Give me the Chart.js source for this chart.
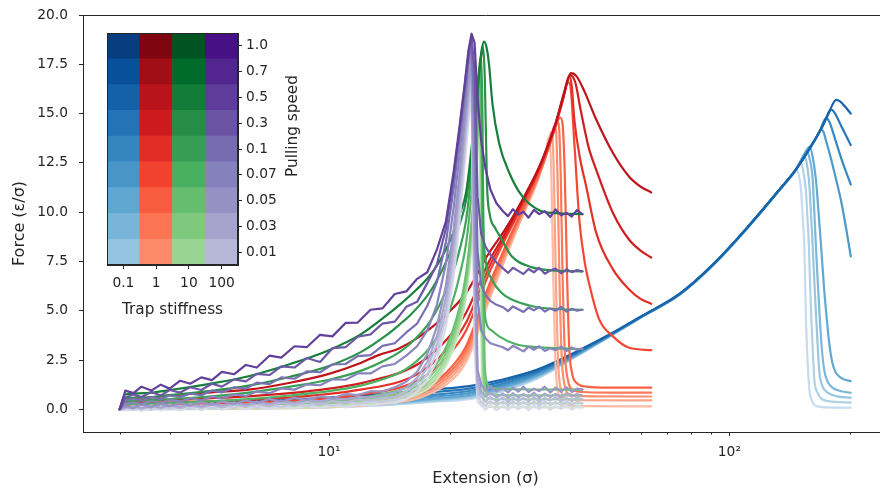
<!DOCTYPE html>
<html>
<head>
<meta charset="utf-8">
<script src="https://cdn.jsdelivr.net/npm/chart.js@4.4.0/dist/chart.umd.min.js"></script>
<style>
  html, body { margin: 0; padding: 0; background: #fff; overflow: hidden; }
  #wrap { position: relative; width: 880px; height: 491px; overflow: hidden; }
  #main { position: absolute; left: 0; top: 0; }
  #inset { position: absolute; left: 102px; top: 28px; }
</style>
</head>
<body>
<div id="wrap">
  <canvas id="main" width="900" height="491"></canvas>
  <canvas id="inset" width="211" height="312"></canvas>
</div>
<script>
// ---- labels and ticks ----
const stiffnessLabels = ['0.1', '1', '10', '100'];
const speedLabels = ['1.0', '0.7', '0.5', '0.3', '0.1', '0.07', '0.05', '0.03', '0.01'];
const forceTicks = [0, 2.5, 5, 7.5, 10, 12.5, 15, 17.5, 20];
const extensionTicks = [3, 4, 5, 6, 7, 8, 9, 10, 20, 30, 40, 50, 60, 70, 80, 90, 100, 200];

// ---- trap stiffness 0.1 : [extension, force], fastest pulling speed first ----
const blueK01 = [
  [[3,0],[3.2,0.25],[4,0.3],[5,0.36],[7,0.46],[10,0.6],[14,0.8],[18,1.0],[22.4,1.18],[27,1.5],[33,2.0],[42,2.98],[50,3.78],[60,4.7],[75,5.85],[91,7.35],[110,9.15],[133,11.12],[147,12.2],[160,13.35],[170,14.27],[178,15.15],[184.8,15.7],[189,15.62],[194,15.38],[201,15.0]],
  [[3,0],[3.2,0.18],[4,0.22],[5,0.27],[7,0.36],[10,0.49],[14,0.67],[18,0.86],[22.4,1.05],[27,1.39],[33,1.92],[42,2.94],[50,3.76],[60,4.69],[75,5.84],[91,7.34],[110,9.14],[133,11.11],[147,12.2],[160,13.35],[170,14.27],[175.5,14.85],[179.6,15.2],[183,15.05],[190,14.4],[201,13.4]],
  [[3,0],[3.2,0.12],[4,0.15],[5,0.19],[7,0.26],[10,0.37],[14,0.54],[18,0.73],[22.4,0.93],[27,1.28],[33,1.84],[42,2.9],[50,3.74],[60,4.68],[75,5.83],[91,7.33],[110,9.13],[133,11.1],[147,12.2],[160,13.35],[168,14.1],[174.5,14.77],[178,14.55],[185,13.5],[192,12.5],[201,11.4]],
  [[3,0],[3.2,0.07],[4,0.09],[5,0.12],[7,0.18],[10,0.28],[14,0.44],[18,0.63],[22.4,0.83],[27,1.19],[33,1.77],[42,2.86],[50,3.72],[60,4.67],[75,5.83],[91,7.33],[110,9.13],[133,11.1],[147,12.2],[160,13.35],[165.5,13.85],[169.5,14.2],[172,14.05],[174.5,13.6],[180,12.6],[184.8,11.65],[190,10.6],[196,9.1],[201,7.76]],
  [[3,0],[3.2,0.03],[4,0.04],[5,0.06],[7,0.1],[10,0.18],[14,0.34],[18,0.53],[22.4,0.73],[27,1.1],[33,1.7],[42,2.82],[50,3.7],[60,4.66],[75,5.82],[91,7.32],[110,9.12],[133,11.1],[147,12.2],[153,12.85],[158.7,13.33],[161.5,12.8],[164.5,11.65],[167,10.0],[169.5,8.27],[172,6.4],[174.5,4.9],[177.5,3.4],[180.8,2.36],[184,1.9],[187.5,1.69],[193,1.52],[201,1.43]],
  [[3,0],[3.2,0.02],[4,0.03],[5,0.05],[7,0.08],[10,0.15],[14,0.3],[18,0.49],[22.4,0.68],[27,1.05],[33,1.66],[42,2.8],[50,3.69],[60,4.66],[75,5.82],[91,7.32],[110,9.12],[133,11.1],[146.8,12.15],[152,12.75],[156,13.08],[158.7,12.7],[161.5,11.65],[163,10.0],[164.5,8.27],[166.2,6.5],[167.9,4.9],[170,3.2],[172.5,2.0],[176,1.4],[180.8,1.1],[190,0.92],[201,0.84]],
  [[3,0],[3.2,0.01],[4,0.02],[5,0.04],[7,0.07],[10,0.13],[14,0.27],[18,0.45],[22.4,0.63],[27,1.0],[33,1.62],[42,2.78],[50,3.68],[60,4.65],[75,5.81],[91,7.31],[110,9.11],[133,11.1],[146.8,12.15],[150.5,12.55],[153.9,12.86],[156,12.5],[158.5,11.3],[160,9.8],[161.5,8.27],[163,6.5],[164.5,4.9],[166.2,3.2],[167.9,1.86],[171,1.15],[176,0.85],[186,0.66],[201,0.59]],
  [[3,0],[3.2,0.01],[4,0.01],[5,0.03],[7,0.06],[10,0.11],[14,0.24],[18,0.41],[22.4,0.58],[27,0.95],[33,1.58],[42,2.76],[50,3.67],[60,4.64],[75,5.8],[91,7.3],[110,9.1],[133,11.1],[140,11.6],[146.8,12.15],[150.4,12.57],[152.5,12.2],[155.2,11.14],[156.6,9.8],[158,8.27],[159,6.5],[160,4.9],[161.5,3.1],[163,1.52],[166,0.85],[171,0.5],[183,0.38],[201,0.34]],
  [[3,0],[3.2,0.0],[4,0.01],[5,0.02],[7,0.05],[10,0.1],[14,0.22],[18,0.38],[22.4,0.52],[27,0.9],[33,1.54],[42,2.74],[50,3.66],[60,4.64],[75,5.8],[91,7.3],[110,9.1],[133,11.1],[140,11.6],[143.5,11.9],[146.8,12.15],[149,11.9],[151,11.14],[152.4,9.8],[153.9,8.27],[154.6,6.5],[155.2,4.9],[156.5,2.8],[158.5,1.0],[161,0.4],[164.5,0.17],[175,0.1],[201,0.08]]
];

// ---- trap stiffness 1 ----
const redK1 = [
  [[3,0],[3.1,0.55],[3.5,0.6],[4,0.7],[5,0.85],[6.3,1.0],[8,1.35],[10,1.8],[12,2.35],[13.3,2.75],[15,3.1],[17,3.75],[19.6,4.8],[22,5.9],[25.1,7.93],[27.5,9.1],[29.8,10.3],[33.5,12.3],[35.5,13.6],[36.9,14.6],[38.7,16.1],[40.2,17.05],[41.5,16.9],[43.5,16.1],[46.5,14.7],[51.2,13.0],[56.2,11.8],[60,11.3],[63.8,11.0]],
  [[3,0],[3.1,0.4],[4,0.48],[5,0.56],[6.3,0.66],[8,0.82],[10,1.05],[12,1.32],[13.3,1.55],[15,1.85],[17,2.4],[19.6,3.5],[22,4.9],[25.1,7.5],[27.5,8.9],[29.8,10.2],[33.5,12.25],[35.5,13.55],[36.9,14.55],[38.7,16.0],[40,16.95],[41.2,16.6],[42.5,15.2],[44.5,13.3],[46.5,12.15],[51.2,9.96],[56.2,8.6],[60,8.05],[63.8,7.7]],
  [[3,0],[3.1,0.3],[4,0.35],[5,0.4],[6.3,0.48],[8,0.6],[10,0.78],[12,1.0],[15,1.4],[17,1.9],[19.6,3.0],[22,4.4],[25.1,7.2],[27.5,8.75],[29.8,10.1],[33.5,12.2],[35.5,13.5],[36.9,14.5],[38.5,15.8],[39.8,16.9],[40.4,16.4],[41.0,14.7],[42.3,12.8],[43.9,11.3],[46.5,8.95],[51.2,7.1],[56.2,6.08],[60,5.6],[63.8,5.35]],
  [[3,0],[3.1,0.2],[4,0.24],[5,0.28],[6.3,0.34],[8,0.43],[10,0.56],[12,0.75],[15,1.1],[17,1.55],[19.6,2.6],[22,4.0],[25.1,6.9],[27.5,8.6],[29.8,10.0],[33.5,12.15],[35.5,13.45],[36.9,14.45],[38.4,15.7],[39.4,16.6],[40.0,16.5],[41.0,13.5],[42.2,9.6],[43.5,7.5],[44.8,6.24],[47.3,4.56],[51.2,3.7],[56.2,3.12],[63.8,3.0]],
  [[3,0],[3.1,0.08],[4,0.1],[5,0.13],[6.3,0.17],[8,0.23],[10,0.32],[12,0.45],[15,0.72],[17,1.05],[19.6,1.85],[22,3.2],[25.1,6.3],[27.5,8.2],[29.8,9.75],[33.5,12.0],[35.5,13.35],[36.9,14.4],[37.8,14.8],[38.3,14.5],[38.8,12.0],[39.3,7.0],[39.8,3.2],[40.5,1.8],[41.5,1.35],[44,1.15],[50,1.1],[63.8,1.1]],
  [[3,0],[3.1,0.06],[4,0.08],[5,0.1],[6.3,0.13],[8,0.18],[10,0.26],[12,0.37],[15,0.62],[17,0.93],[19.6,1.7],[22,3.0],[25.1,6.1],[27.5,8.05],[29.8,9.65],[33.5,11.95],[35.5,13.35],[36.5,14.15],[37.1,14.6],[37.5,14.4],[37.9,12.0],[38.3,7.0],[38.8,3.0],[39.5,1.5],[40.5,1.0],[43,0.88],[50,0.85],[63.8,0.85]],
  [[3,0],[3.1,0.04],[4,0.06],[5,0.08],[6.3,0.1],[8,0.14],[10,0.21],[12,0.3],[15,0.53],[17,0.82],[19.6,1.55],[22,2.8],[25.1,5.9],[27.5,7.9],[29.8,9.55],[33.5,11.9],[35.2,13.15],[36.0,13.95],[36.5,14.35],[36.9,14.15],[37.2,12.0],[37.6,7.0],[38.1,2.8],[38.8,1.2],[39.8,0.78],[43,0.67],[63.8,0.65]],
  [[3,0],[3.1,0.02],[4,0.04],[5,0.05],[6.3,0.07],[8,0.1],[10,0.16],[12,0.24],[15,0.45],[17,0.72],[19.6,1.4],[22,2.6],[25.1,5.7],[27.5,7.75],[29.8,9.45],[33.5,11.85],[34.8,12.85],[35.4,13.5],[35.8,14.05],[36.15,13.85],[36.45,11.8],[36.85,6.8],[37.3,2.6],[38.0,0.95],[39.2,0.52],[43,0.46],[63.8,0.45]],
  [[3,0],[3.1,0.01],[4,0.02],[5,0.03],[6.3,0.04],[8,0.06],[10,0.11],[12,0.18],[15,0.37],[17,0.62],[19.6,1.25],[22,2.4],[25.1,5.5],[27.5,7.6],[29.8,9.35],[33.0,11.45],[34.3,12.5],[34.9,13.2],[35.3,13.75],[35.65,13.55],[35.95,11.5],[36.35,6.5],[36.8,2.3],[37.5,0.7],[38.6,0.24],[43,0.16],[63.8,0.15]]
];

// ---- trap stiffness 10 ----
const greenK10 = [
  [[3,0],[3.1,0.75],[3.5,0.82],[4,0.98],[5,1.28],[6.3,1.68],[8,2.3],[10,3.0],[12,3.8],[14,4.8],[15,5.3],[16,5.8],[17.8,6.75],[19,7.6],[20.3,8.8],[21.2,9.9],[22,11.0],[22.8,13.6],[23.3,15.6],[23.7,17.1],[24.05,18.2],[24.4,18.65],[24.75,18.35],[25.1,17.5],[25.6,15.5],[26.6,13.5],[28.2,12.0],[30.4,10.8],[33.5,10.1],[37,9.95],[43,9.9]],
  [[3,0],[3.1,0.55],[3.5,0.6],[4,0.72],[5,0.92],[6.3,1.2],[8,1.65],[10,2.2],[12,2.9],[14,3.8],[15,4.3],[16,4.8],[17.8,5.9],[19,6.9],[20.3,8.2],[21.2,9.4],[22,10.6],[22.8,13.1],[23.3,15.3],[23.7,16.9],[24.0,17.9],[24.25,18.4],[24.5,16.8],[24.8,11.5],[25.2,9.9],[26.0,9.2],[26.6,8.85],[28.6,7.76],[32.2,7.2],[36,7.05],[43,7.0]],
  [[3,0],[3.1,0.4],[3.5,0.45],[4,0.52],[5,0.65],[6.3,0.85],[8,1.15],[10,1.5],[12,1.95],[14,2.55],[15,2.9],[16,3.35],[17.8,4.4],[19,5.4],[20.3,6.8],[21.2,8.1],[22,9.6],[22.8,12.4],[23.3,14.7],[23.6,16.5],[23.85,17.7],[24.0,17.9],[24.15,15.5],[24.3,9.5],[24.6,7.6],[25.5,6.6],[27,5.9],[28.6,5.57],[32.2,5.23],[36,5.1],[43,5.05]],
  [[3,0],[3.1,0.25],[3.5,0.28],[4,0.32],[5,0.4],[6.3,0.52],[8,0.7],[10,0.92],[12,1.2],[14,1.6],[15,1.85],[16,2.2],[17.8,3.1],[19,4.0],[20.3,5.4],[21.2,6.8],[22,8.4],[22.8,11.4],[23.3,14.0],[23.55,15.9],[23.75,17.1],[23.9,17.35],[24.05,14.5],[24.2,8.0],[24.4,5.4],[24.7,4.4],[25.5,4.0],[26.6,3.7],[29.3,3.3],[33,3.15],[43,3.05]],
  [[3,0],[3.1,0.1],[4,0.14],[5,0.18],[6.3,0.24],[8,0.32],[10,0.43],[12,0.58],[14,0.82],[15,0.98],[16,1.2],[17.8,1.85],[19,2.6],[20.3,3.9],[21.2,5.2],[22,6.9],[22.8,9.9],[23.3,12.6],[23.6,14.8],[23.85,16.5],[24.0,16.9],[24.15,14.0],[24.3,7.0],[24.45,2.8],[24.7,1.5],[25.2,1.15],[27,1.03],[43,1.0]],
  [[3,0],[3.1,0.07],[4,0.1],[5,0.13],[6.3,0.18],[8,0.25],[10,0.34],[12,0.47],[14,0.68],[15,0.82],[16,1.02],[17.8,1.62],[19,2.35],[20.3,3.6],[21.2,4.9],[22,6.6],[22.8,9.6],[23.3,12.3],[23.55,14.4],[23.8,16.1],[23.92,16.4],[24.05,13.5],[24.2,6.5],[24.35,2.4],[24.6,1.1],[25.1,0.8],[27,0.72],[43,0.7]],
  [[3,0],[3.1,0.05],[4,0.07],[5,0.09],[6.3,0.13],[8,0.19],[10,0.27],[12,0.38],[14,0.56],[15,0.69],[16,0.88],[17.8,1.42],[19,2.12],[20.3,3.35],[21.2,4.6],[22,6.3],[22.8,9.3],[23.3,12.0],[23.5,13.8],[23.72,15.5],[23.84,15.9],[23.97,13.0],[24.12,6.0],[24.27,2.0],[24.5,0.8],[25,0.56],[27,0.51],[43,0.5]],
  [[3,0],[3.1,0.03],[4,0.04],[5,0.06],[6.3,0.09],[8,0.13],[10,0.2],[12,0.3],[14,0.45],[15,0.57],[16,0.75],[17.8,1.25],[19,1.92],[20.3,3.1],[21.2,4.35],[22,6.0],[22.8,9.0],[23.3,11.7],[23.45,13.2],[23.65,14.9],[23.76,15.4],[23.89,12.5],[24.04,5.5],[24.19,1.7],[24.4,0.55],[24.9,0.34],[27,0.31],[43,0.3]],
  [[3,0],[3.1,0.01],[4,0.02],[5,0.03],[6.3,0.05],[8,0.08],[10,0.13],[12,0.22],[14,0.35],[15,0.46],[16,0.63],[17.8,1.1],[19,1.74],[20.3,2.9],[21.2,4.1],[22,5.75],[22.8,8.7],[23.2,11.0],[23.4,12.6],[23.57,14.3],[23.68,14.9],[23.81,12.0],[23.96,5.0],[24.11,1.4],[24.3,0.35],[24.8,0.13],[27,0.11],[43,0.1]]
];

// ---- trap stiffness 100 : sampled extensions shared by all speeds, then noisy forces ----
const purpleExt = [3.0,3.1,3.25,3.4,3.6,3.8,4.0,4.25,4.5,4.8,5.1,5.4,5.8,6.2,6.6,7.1,7.6,8.2,8.8,9.5,10.2,11.0,11.8,12.7,13.6,14.6,15.6,16.6,17.6,18.6,19.6,20.5,21.2,21.8,22.3,22.7,23.1,23.5,24.0,24.6,25.3,26.2,27.2,28.0,28.8,29.7,30.6,31.5,32.5,33.5,34.6,35.7,36.8,38.0,39.2,40.4,41.6,42.9];
const purpleK100 = [
  [0.00,0.95,0.82,1.15,0.95,1.25,1.05,1.45,1.30,1.62,1.48,1.90,1.78,2.25,2.12,2.72,2.62,3.20,3.15,3.78,3.70,4.38,4.40,5.05,5.12,5.85,5.98,6.62,6.95,8.10,9.55,12.10,14.40,16.40,18.20,19.05,18.60,15.80,13.60,12.20,11.15,10.45,10.05,9.80,10.15,9.88,10.02,9.72,10.12,9.90,10.05,9.76,10.14,9.84,9.96,9.78,10.10,9.90],
  [0.00,0.60,0.76,0.62,0.88,0.70,0.98,0.85,1.12,0.98,1.30,1.15,1.52,1.42,1.80,1.74,2.18,2.12,2.60,2.40,3.10,3.15,3.68,3.80,4.35,4.45,5.20,5.45,6.40,7.35,9.20,11.90,14.20,16.30,18.00,18.85,17.20,10.80,8.90,8.25,7.85,7.45,7.15,6.92,7.18,7.02,6.86,7.12,6.95,7.18,6.88,7.04,7.14,6.90,7.10,6.96,7.06,7.00],
  [0.00,0.45,0.55,0.44,0.62,0.52,0.70,0.62,0.80,0.72,0.95,0.86,1.12,1.05,1.35,1.28,1.62,1.55,1.92,1.88,2.28,2.30,2.70,2.75,3.22,3.35,3.90,4.35,5.25,6.45,8.50,11.30,13.80,16.00,17.80,18.60,15.20,8.00,6.30,5.80,5.50,5.30,5.18,4.98,5.22,5.08,4.94,5.16,5.02,5.20,4.96,5.12,5.00,5.20,4.95,5.10,5.00,5.05],
  [0.00,0.28,0.36,0.26,0.42,0.32,0.48,0.40,0.56,0.46,0.64,0.55,0.76,0.68,0.90,0.82,1.06,1.00,1.26,1.22,1.52,1.50,1.82,1.82,2.18,2.30,2.72,3.20,4.00,5.30,7.40,10.30,13.00,15.40,17.40,18.35,14.20,5.60,4.00,3.60,3.35,3.25,3.15,3.00,3.22,3.08,2.94,3.18,3.02,3.20,2.96,3.10,3.00,3.18,2.96,3.14,3.02,3.10],
  [0.00,0.15,0.05,0.25,0.10,0.30,0.15,0.32,0.18,0.36,0.22,0.40,0.28,0.45,0.32,0.52,0.40,0.58,0.48,0.66,0.56,0.78,0.72,0.92,0.90,1.12,1.40,1.90,2.80,4.20,6.30,9.20,12.00,14.60,16.70,17.80,10.00,2.00,1.25,0.95,1.15,0.90,1.10,0.85,1.10,0.90,1.15,0.88,1.05,0.92,1.15,0.85,1.10,0.90,1.12,0.88,1.05,1.00],
  [0.00,0.10,0.18,0.05,0.22,0.08,0.25,0.12,0.28,0.14,0.30,0.18,0.34,0.22,0.38,0.26,0.44,0.32,0.50,0.40,0.55,0.50,0.62,0.62,0.72,0.85,1.10,1.60,2.40,3.70,5.70,8.50,11.30,14.00,16.20,17.50,7.60,1.50,0.90,0.65,0.85,0.60,0.80,0.58,0.82,0.60,0.78,0.62,0.85,0.58,0.80,0.62,0.78,0.60,0.82,0.64,0.78,0.70],
  [0.00,0.05,0.15,0.02,0.18,0.04,0.20,0.06,0.22,0.08,0.25,0.10,0.28,0.14,0.30,0.16,0.34,0.22,0.38,0.26,0.42,0.34,0.50,0.46,0.56,0.62,0.90,1.35,2.10,3.30,5.20,8.00,10.80,13.40,15.70,17.00,6.00,1.10,0.65,0.40,0.62,0.40,0.60,0.38,0.60,0.42,0.58,0.40,0.62,0.38,0.58,0.44,0.60,0.40,0.58,0.42,0.60,0.50],
  [0.00,0.12,0.00,0.14,-0.02,0.16,0.02,0.18,0.04,0.20,0.05,0.22,0.08,0.24,0.10,0.26,0.12,0.28,0.16,0.30,0.18,0.36,0.28,0.40,0.38,0.48,0.70,1.10,1.80,2.90,4.70,7.40,10.20,12.90,15.20,16.50,4.50,0.70,0.35,0.18,0.42,0.20,0.40,0.18,0.42,0.22,0.38,0.20,0.40,0.18,0.40,0.22,0.38,0.20,0.42,0.22,0.38,0.30],
  [0.00,-0.05,0.10,-0.08,0.12,-0.05,0.10,-0.06,0.12,-0.04,0.14,-0.02,0.15,0.00,0.16,0.02,0.18,0.04,0.20,0.06,0.22,0.10,0.25,0.18,0.30,0.32,0.50,0.90,1.50,2.50,4.20,6.80,9.60,12.30,14.60,16.00,3.00,0.40,0.20,-0.02,0.22,-0.05,0.20,-0.02,0.22,0.00,0.18,-0.04,0.22,0.00,0.20,-0.03,0.18,0.02,0.22,-0.02,0.18,0.10]
];

// ---- line colours, fastest speed first ----
const bluesLine   = ['#1764ab','#2676b8','#3888c1','#4c99ca','#63a8d3','#7db8da','#99c7e0','#b0d2e7','#c6dbef'];
const redsLine    = ['#bc141a','#d01d1f','#e43128','#f24734','#f96144','#fb7858','#fc8e6e','#fca487','#fcbba1'];
const greensLine  = ['#157f3b','#289049','#38a156','#4eb163','#6abf71','#84cb83','#9dd797','#b2e0ac','#c7e9c0'];
const purplesLine = ['#61409b','#6d58a6','#7970b3','#8884be','#9894c5','#a9a6cf','#b9bada','#cacae3','#dadaeb'];

// ---- key swatches (rows top to bottom = speeds 1.0 ... 0.01) ----
const bluesKey   = ['#083d7f','#08509a','#1461a8','#2373b6','#3585bf','#4896c8','#5fa6d1','#78b5d9','#94c4df'];
const redsKey    = ['#7f0610','#a20e15','#b81419','#cd1a1e','#e12d26','#f14230','#f75c41','#fb7454','#fc8a6a'];
const greensKey  = ['#005422','#006b2b','#127c38','#258d46','#359e53','#49af61','#65bd6f','#7fc97f','#98d594'];
const purplesKey = ['#471084','#53258e','#5f3c99','#6b53a4','#776bb1','#8481bc','#9591c4','#a6a3cd','#b6b6d8'];

const TEXT = '#262626';
const FONT = '"DejaVu Sans", sans-serif';

// ---- build line datasets ----
const datasets = [];
function addFamily(curves, colors, rank, smooth) {
  curves.forEach((pts, i) => {
    datasets.push({
      data: pts,
      borderColor: colors[i],
      borderWidth: 2.2,
      pointRadius: 0,
      fill: false,
      tension: 0,
      cubicInterpolationMode: smooth ? 'monotone' : 'default',
      borderJoinStyle: 'round',
      borderCapStyle: 'round',
      order: rank * 10 + i
    });
  });
}
const asXY = pairs => pairs.map(([x, y]) => ({ x, y }));
addFamily(blueK01.map(asXY), bluesLine, 3, true);
addFamily(redK1.map(asXY), redsLine, 2, true);
addFamily(greenK10.map(asXY), greensLine, 1, true);
addFamily(purpleK100.map(f => f.map((y, i) => ({ x: purpleExt[i], y }))), purplesLine, 0, false);

// keep the plot box exactly where the layout puts it (no extra label padding)
const fixedBox = size => s => {
  if (s.isHorizontal()) { s.height = size; } else { s.width = size; }
  s.paddingTop = 0; s.paddingBottom = 0; s.paddingLeft = 0; s.paddingRight = 0;
};

// frame: top spine plus major/minor ticks along the log axis
const axisFrame = {
  id: 'axisFrame',
  afterDraw(chart) {
    const { ctx, chartArea: a, scales: { x } } = chart;
    ctx.save();
    ctx.strokeStyle = TEXT;
    ctx.lineWidth = 1;
    ctx.beginPath();
    ctx.moveTo(a.left, a.top + 0.5);
    ctx.lineTo(a.right, a.top + 0.5);
    ctx.moveTo(a.right - 0.5, a.top);
    ctx.lineTo(a.right - 0.5, a.bottom);
    extensionTicks.forEach(v => {
      const px = Math.round(x.getPixelForValue(v)) + 0.5;
      const len = (v === 10 || v === 100) ? 4 : 2.5;
      ctx.moveTo(px, a.bottom);
      ctx.lineTo(px, a.bottom + len);
    });
    ctx.stroke();
    ctx.restore();
  }
};

new Chart(document.getElementById('main'), {
  type: 'line',
  data: { datasets },
  options: {
    responsive: false,
    animation: false,
    events: [],
    layout: { padding: { left: 0, top: 15, right: 12, bottom: 0 } },
    plugins: { legend: { display: false }, tooltip: { enabled: false } },
    scales: {
      x: {
        type: 'logarithmic',
        min: 2.43,
        max: 249,
        afterFit: fixedBox(59),
        afterBuildTicks: s => { s.ticks = extensionTicks.map(v => ({ value: v })); },
        ticks: {
          autoSkip: false,
          maxRotation: 0,
          padding: 12,
          color: TEXT,
          font: { family: FONT, size: 13.8 },
          callback: v => (v === 10 ? '10\u00b9' : v === 100 ? '10\u00b2' : '')
        },
        grid: { drawOnChartArea: false, drawTicks: false },
        border: { display: true, color: TEXT, width: 1 },
        title: {
          display: true,
          text: 'Extension (\u03c3)',
          color: TEXT,
          font: { family: FONT, size: 16 },
          padding: { top: 0, bottom: 2.4 }
        }
      },
      y: {
        min: -1.15,
        max: 20,
        afterFit: fixedBox(83),
        afterBuildTicks: s => { s.ticks = forceTicks.map(v => ({ value: v })); },
        ticks: {
          autoSkip: false,
          padding: 11,
          color: TEXT,
          font: { family: FONT, size: 13.8 },
          callback: v => Number(v).toFixed(1)
        },
        grid: { drawOnChartArea: false, drawTicks: true, tickLength: 4, tickColor: TEXT },
        border: { display: true, color: TEXT, width: 1 },
        title: {
          display: true,
          text: 'Force (\u03b5/\u03c3)',
          color: TEXT,
          font: { family: FONT, size: 16 },
          padding: { top: 10, bottom: 0 }
        }
      }
    }
  },
  plugins: [axisFrame]
});

// ---- key: one cell per (stiffness, speed) ----
const keyRowsBottomUp = speedLabels.map((s, r) => r).reverse();
const keyDatasets = keyRowsBottomUp.map(r => ({
  label: speedLabels[r],
  data: stiffnessLabels.map(() => 1),
  backgroundColor: [bluesKey[r], redsKey[r], greensKey[r], purplesKey[r]],
  borderWidth: 0,
  barPercentage: 1,
  categoryPercentage: 1
}));

const keyFrame = {
  id: 'keyFrame',
  afterDraw(chart) {
    const { ctx, chartArea: a } = chart;
    ctx.save();
    ctx.strokeStyle = TEXT;
    ctx.lineWidth = 1;
    ctx.strokeRect(Math.round(a.left) + 0.5, Math.round(a.top) + 0.5,
                   Math.round(a.right - a.left) - 1, Math.round(a.bottom - a.top) - 1);
    ctx.fillStyle = TEXT;
    ctx.font = '15.3px ' + FONT;
    ctx.textAlign = 'center';
    ctx.textBaseline = 'middle';
    ctx.translate(191, 98);
    ctx.rotate(-Math.PI / 2);
    ctx.fillText('Pulling speed', 0, 0);
    ctx.restore();
  }
};

new Chart(document.getElementById('inset'), {
  type: 'bar',
  data: { labels: stiffnessLabels, datasets: keyDatasets },
  options: {
    responsive: false,
    animation: false,
    events: [],
    layout: { padding: { left: 5, top: 5, right: 0, bottom: 0 } },
    plugins: { legend: { display: false }, tooltip: { enabled: false } },
    scales: {
      x: {
        stacked: true,
        afterFit: fixedBox(75),
        grid: { drawOnChartArea: false, offset: false, tickLength: 4, tickColor: TEXT },
        border: { display: true, color: TEXT },
        ticks: { padding: 6, color: TEXT, font: { family: FONT, size: 13.8 } },
        title: {
          display: true,
          text: 'Trap stiffness',
          color: TEXT,
          font: { family: FONT, size: 15.3 },
          padding: { top: 0, bottom: 21 }
        }
      },
      y: {
        stacked: true,
        position: 'right',
        min: 0,
        max: 9,
        afterFit: fixedBox(75),
        afterBuildTicks: s => { s.ticks = speedLabels.map((_, k) => ({ value: k + 0.5 })); },
        grid: { drawOnChartArea: false, tickLength: 4, tickColor: TEXT },
        border: { display: true, color: TEXT },
        ticks: {
          autoSkip: false,
          padding: 4,
          color: TEXT,
          font: { family: FONT, size: 13.8 },
          callback: v => speedLabels[8 - Math.round(v - 0.5)]
        }
      }
    }
  },
  plugins: [keyFrame]
});
</script>
</body>
</html>
